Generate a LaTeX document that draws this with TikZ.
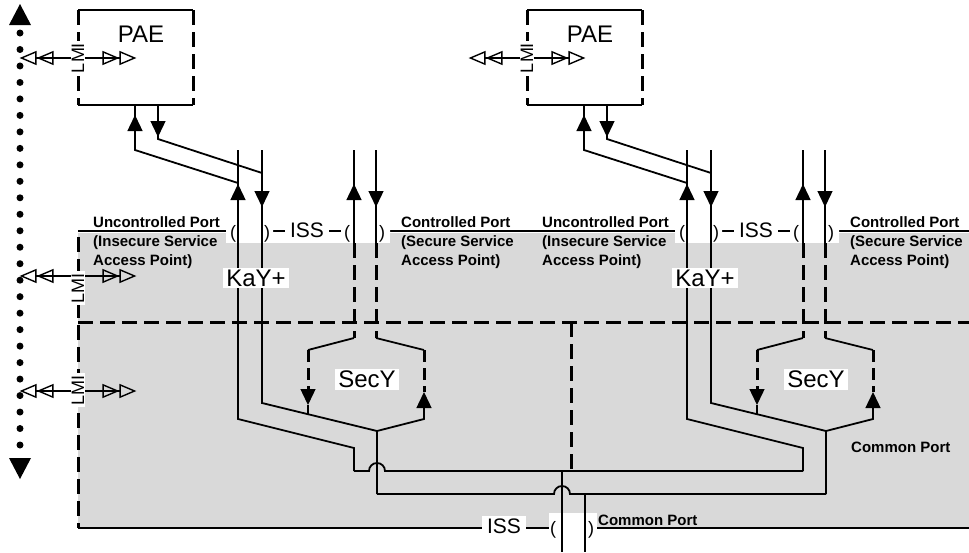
\documentclass[tikz,border=0pt]{standalone}
\usepackage{fontspec}
\setmainfont{Liberation Sans}
\usetikzlibrary{arrows.meta}

\begin{document}
\begin{tikzpicture}[x=1pt, y=-1pt,
    wire/.style={line width=1.8pt},
    dashwire/.style={line width=3pt, dash pattern=on 15pt off 7pt},
    headarrow/.style={line width=1.4pt, -{Triangle[length=16pt,width=15pt]}},
    lmiarrow/.style={line width=1.4pt, -{Triangle[open,length=17pt,width=14pt,sep=0pt] Triangle[open,length=17pt,width=14pt]}},
    lmilabel/.style={fill=white, rotate=90, inner xsep=2pt, inner ysep=1pt, font=\fontsize{18}{18}\selectfont},
    boxlabel/.style={fill=white, inner xsep=3pt, inner ysep=2pt, font=\fontsize{24}{24}\selectfont},
    isslabel/.style={fill=white, inner xsep=5pt, inner ysep=3pt, font=\fontsize{21}{21}\selectfont},
    parlabel/.style={inner sep=0pt, font=\fontsize{18}{18}\selectfont},
    portlabel/.style={inner sep=0pt, align=left, font=\bfseries\fontsize{15}{19}\selectfont}]
  \useasboundingbox (0,0) rectangle (969,552);
  % shaded system area
  \fill[black!15] (78,233) rectangle (969,528);
  \draw[wire] (78,231) -- (969,231);
  \draw[wire] (78,528) -- (969,528);
  \draw[dashwire] (78,322) -- (969,322);
  \draw[dashwire] (78,237) -- (78,528);
  \draw[dashwire] (571,322) -- (571,471);
  % management axis
  \draw[line width=7pt, line cap=round, dash pattern=on 0pt off 16.48pt] (20,33) -- (20,446);
  \fill (9,25) -- (20,4) -- (31,25) -- cycle;
  \fill (9,458) -- (20,479) -- (31,458) -- cycle;
  % two stations
  \foreach \dx in {0,449} {
    \begin{scope}[xshift=\dx]
      \draw[wire] (78,10) -- (193,10) (78,105) -- (193,105);
      \draw[dashwire, dash pattern=on 15pt off 7pt] (78,10) -- (78,105) (193,10) -- (193,105);
      \node[boxlabel, fill=none] (pae) at (141,34) {PAE};
      \node[lmilabel] (lmi) at (78,58) {LMI};
      \draw[lmiarrow] (lmi.north) -- +(-51,0);
      \draw[lmiarrow] (lmi.south) -- +(51,0);
      % iss strip
      \fill[white] (226,232) rectangle (390,243);
      \fill[white] (226,221) rectangle (273,232) (341,221) rectangle (390,232);
      \node[isslabel] (iss) at (307,230) {ISS};
      \node[parlabel] (lpa) at (233,233.5) {(};
      \node[parlabel] (lpb) at (267,233.5) {)};
      \node[parlabel] (lpc) at (347,233.5) {(};
      \node[parlabel] (lpd) at (382,233.5) {)};
      \node[portlabel, anchor=base west] (uport) at (93,227) {Uncontrolled Port};
      \node[portlabel, anchor=north west] (usap) at (93,235.5) {(Insecure Service\\Access Point)};
      \node[portlabel, anchor=base west] (cport) at (401,227) {Controlled Port};
      \node[portlabel, anchor=north west] (csap) at (401,235.5) {(Secure Service\\Access Point)};
      % PAE to uncontrolled port
      \draw[wire] (135,105) -- (135,150) -- (238,183);
      \draw[wire] (158,105) -- (158,139) -- (262,173);
      \draw[headarrow] (135,131) -- (135,115);
      \draw[headarrow] (158,121) -- (158,137);
      % uncontrolled port
      \draw[wire] (238,150) -- (238,419) -- (354,448) -- (354,471);
      \draw[wire] (262,150) -- (262,403) -- (377,431) -- (377,494);
      \draw[headarrow] (238,200) -- (238,184);
      \draw[headarrow] (262,191) -- (262,207);
      % controlled port and SecY
      \draw[wire] (354,150) -- (354,243) (376,150) -- (376,243);
      \draw[headarrow] (354,200) -- (354,184);
      \draw[headarrow] (376,191) -- (376,207);
      \draw[dashwire] (354,243) -- (354,338) (376,243) -- (376,338);
      \draw[wire] (354,338) -- (308,350) (376,338) -- (424,350);
      \draw[dashwire, dash pattern=on 12pt off 6pt] (308,350) -- (308,389) (424,350) -- (424,392);
      \draw[headarrow] (308,389) -- (308,405);
      \draw[headarrow] (424,408) -- (424,392);
      \draw[wire] (308,405) -- (308,414);
      \draw[wire] (424,408) -- (424,419) -- (377,431);
      \node[boxlabel] (kay) at (256,278) {KaY+};
      \node[boxlabel] (secy) at (367,379) {SecY};
    \end{scope}
  }
  % management of the system area
  \node[lmilabel] (lmiu) at (78,288) {LMI};
  \draw[lmiarrow] ([yshift=12pt]lmiu.north) -- +(-51,0);
  \draw[lmiarrow] ([yshift=12pt]lmiu.south) -- +(51,0);
  \node[lmilabel] (lmil) at (78,390) {LMI};
  \draw[lmiarrow] ([yshift=-1pt]lmil.north) -- +(-51,0);
  \draw[lmiarrow] ([yshift=-1pt]lmil.south) -- +(51,0);
  % common port
  \draw[wire] (354,471) -- (369,471) arc[start angle=180, delta angle=180, radius=8] -- (803,471);
  \draw[wire] (377,494) -- (554,494) arc[start angle=180, delta angle=180, radius=8] -- (826,494);
  \fill[white] (549,513) rectangle (597,552);
  \node[isslabel] (biss) at (504,526) {ISS};
  \draw[wire] (562,471) -- (562,552);
  \draw[wire] (585,494) -- (585,552);
  \node[parlabel] (bpa) at (553,530) {(};
  \node[parlabel] (bpb) at (591,530) {)};
  \node[portlabel, anchor=base west] (bcom) at (598,525) {Common Port};
  \node[portlabel, anchor=base west] (rcom) at (851,452) {Common Port};
\end{tikzpicture}
\end{document}
